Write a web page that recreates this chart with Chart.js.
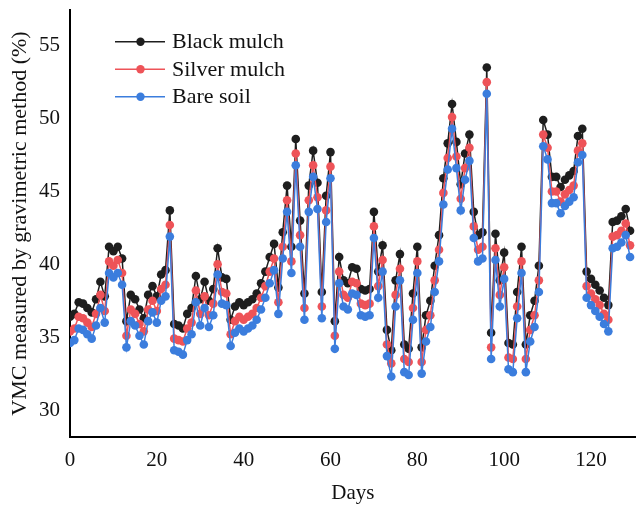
<!DOCTYPE html>
<html>
<head>
<meta charset="utf-8">
<script src="https://cdn.jsdelivr.net/npm/chart.js@4.4.1/dist/chart.umd.min.js"></script>
<style>
    html, body { margin: 0; padding: 0; background: #fff; }
    #wrap { width: 640px; height: 507px; position: relative; }
</style>
</head>
<body>
<div id="wrap"><canvas id="vmcChart"></canvas></div>
<script>
// VMC (%) per day; index = day number
const blackMulch = [
    36.4, 36.6, 37.4, 37.3, 37.0, 36.7, 37.6, 38.8, 37.8, 41.2,
    40.9, 41.2, 40.4, 36.1, 37.9, 37.6, 36.9, 36.3, 37.9, 38.5,
    37.8, 39.3, 39.6, 43.7, 35.9, 35.8, 35.6, 36.6, 37.0, 39.2,
    37.6, 38.8, 37.5, 38.3, 41.1, 39.1, 39.0, 36.2, 37.1, 37.4,
    37.2, 37.4, 37.6, 38.0, 38.7, 39.5, 40.5, 41.4, 38.4, 42.2,
    45.4, 41.2, 48.6, 43.0, 38.0, 45.4, 47.8, 45.6, 38.1, 44.7,
    47.7, 36.1, 40.5, 38.9, 38.7, 39.8, 39.7, 38.3, 38.2, 38.3,
    43.6, 39.5, 41.3, 35.5, 34.1, 38.9, 40.7, 34.5, 34.2, 38.0,
    41.2, 34.3, 36.5, 37.5, 39.9, 42.0, 45.9, 48.3, 51.0, 48.4,
    45.5, 47.6, 48.9, 43.6, 42.0, 42.2, 53.5, 35.3, 42.1, 38.9,
    40.8, 34.6, 34.5, 38.1, 41.2, 34.5, 36.5, 37.5, 39.9, 49.9,
    48.9, 46.0, 46.0, 45.3, 45.8, 46.1, 46.4, 48.8, 49.3, 39.5,
    39.0, 38.6, 38.2, 37.7, 37.2, 42.9, 43.0, 43.3, 43.8, 42.3
];
const silverMulch = [
    35.4, 35.6, 36.4, 36.3, 36.0, 35.7, 36.6, 37.9, 36.8, 40.2,
    39.9, 40.3, 39.4, 35.1, 36.9, 36.6, 35.9, 35.4, 36.9, 37.5,
    36.8, 38.3, 38.6, 42.7, 34.9, 34.8, 34.7, 35.6, 36.0, 38.2,
    36.6, 37.8, 36.5, 37.3, 40.0, 38.1, 38.0, 35.2, 36.1, 36.4,
    36.2, 36.4, 36.6, 37.0, 37.7, 38.5, 39.5, 40.4, 37.4, 41.2,
    44.4, 40.2, 47.6, 42.0, 37.0, 44.4, 46.8, 44.6, 37.1, 43.7,
    46.7, 35.1, 39.5, 37.9, 37.7, 38.8, 38.7, 37.3, 37.2, 37.3,
    42.6, 38.5, 40.3, 34.5, 33.2, 37.9, 39.7, 33.5, 33.3, 37.0,
    40.2, 33.3, 35.5, 36.5, 38.9, 41.0, 44.9, 47.3, 50.1, 47.4,
    44.5, 46.6, 48.0, 42.6, 41.0, 41.2, 52.5, 34.3, 41.1, 37.9,
    39.8, 33.6, 33.5, 37.1, 40.2, 33.5, 35.5, 36.5, 38.9, 48.9,
    48.0, 45.0, 45.0, 44.3, 44.8, 45.1, 45.4, 47.8, 48.3, 38.5,
    38.0, 37.6, 37.2, 36.6, 36.2, 41.9, 42.0, 42.3, 42.8, 41.3
];
const bareSoil = [
    34.6, 34.8, 35.6, 35.5, 35.2, 34.9, 35.8, 37.0, 36.0, 39.4,
    39.1, 39.4, 38.6, 34.3, 36.1, 35.8, 35.1, 34.5, 36.1, 36.7,
    36.0, 37.5, 37.8, 41.9, 34.1, 34.0, 33.8, 34.8, 35.2, 37.4,
    35.8, 37.0, 35.7, 36.5, 39.3, 37.3, 37.2, 34.4, 35.3, 35.6,
    35.4, 35.6, 35.8, 36.2, 36.9, 37.7, 38.7, 39.6, 36.6, 40.4,
    43.6, 39.4, 46.8, 41.2, 36.2, 43.6, 46.0, 43.8, 36.3, 42.9,
    45.9, 34.2, 38.7, 37.1, 36.9, 38.0, 37.9, 36.5, 36.4, 36.5,
    41.8, 37.7, 39.5, 33.7, 32.3, 37.1, 38.9, 32.6, 32.4, 36.2,
    39.4, 32.5, 34.7, 35.7, 38.1, 40.2, 44.1, 46.5, 49.3, 46.6,
    43.7, 45.8, 47.1, 41.8, 40.2, 40.4, 51.7, 33.5, 40.3, 37.1,
    39.0, 32.8, 32.6, 36.3, 39.4, 32.6, 34.7, 35.7, 38.1, 48.1,
    47.2, 44.2, 44.2, 43.5, 44.0, 44.3, 44.6, 47.0, 47.5, 37.7,
    37.2, 36.8, 36.4, 35.9, 35.4, 41.1, 41.2, 41.5, 42.0, 40.5
];
const seriesNames = ['Black mulch', 'Silver mulch', 'Bare soil'];
const seriesColors = ['#1e1e1e', '#ee5358', '#3b7ddd'];
const dayTicks = [0, 20, 40, 60, 80, 100, 120];
const vmcTicks = [30, 35, 40, 45, 50, 55];

const serif = "'Liberation Serif', 'Times New Roman', serif";

function toPoints(values) {
    return values.map((v, day) => ({ x: day, y: v }));
}

// legend drawn inside the plot, top-left, like the original figure
const insetLegend = {
    id: 'insetLegend',
    afterDraw(chart) {
        const ctx = chart.ctx;
        const rows = [41.7, 69.3, 96.7];
        ctx.save();
        ctx.font = '22px ' + serif;
        ctx.textBaseline = 'middle';
        ctx.textAlign = 'left';
        seriesNames.forEach((name, i) => {
            const y = rows[i];
            ctx.strokeStyle = seriesColors[i];
            ctx.lineWidth = 1.6;
            ctx.beginPath();
            ctx.moveTo(115, y);
            ctx.lineTo(165, y);
            ctx.stroke();
            ctx.fillStyle = seriesColors[i];
            ctx.beginPath();
            ctx.arc(140.5, y, 4.2, 0, Math.PI * 2);
            ctx.fill();
            ctx.fillStyle = '#111';
            ctx.fillText(name, 172, y + 1);
        });
        ctx.restore();
    }
};

function makeDataset(values, i, drawOrder) {
    return {
        label: seriesNames[i],
        data: toPoints(values),
        borderColor: seriesColors[i],
        backgroundColor: seriesColors[i],
        borderWidth: 1.5,
        pointRadius: 4.3,
        pointBorderWidth: 0,
        pointBackgroundColor: seriesColors[i],
        tension: 0,
        order: drawOrder
    };
}

// drop the half-label padding Chart.js reserves at the axis ends
function noEndPadding(scale) {
    scale.paddingTop = 0;
    scale.paddingBottom = 0;
    scale.paddingLeft = 0;
    scale.paddingRight = 0;
}

const ctx = document.getElementById('vmcChart').getContext('2d');
new Chart(ctx, {
    type: 'line',
    data: {
        datasets: [
            makeDataset(blackMulch, 0, 3),
            makeDataset(silverMulch, 1, 2),
            makeDataset(bareSoil, 2, 1)
        ]
    },
    options: {
        responsive: true,
        maintainAspectRatio: false,
        animation: false,
        layout: { padding: { top: 10, right: 3, left: 0, bottom: 0 } },
        plugins: {
            legend: { display: false },
            tooltip: { enabled: false }
        },
        scales: {
            x: {
                type: 'linear',
                min: 0,
                max: 130.3,
                afterBuildTicks: (scale) => { scale.ticks = dayTicks.map(v => ({ value: v })); },
                afterFit: (scale) => { scale.height = 70; noEndPadding(scale); },
                grid: { display: false, drawTicks: false },
                border: { display: true, color: '#000', width: 2 },
                ticks: { color: '#111', padding: 11, font: { family: serif, size: 21 } },
                title: {
                    display: true,
                    text: 'Days',
                    color: '#111',
                    font: { family: serif, size: 21 },
                    padding: { top: 0, bottom: 1 }
                }
            },
            y: {
                min: 28.15,
                max: 57.45,
                afterBuildTicks: (scale) => { scale.ticks = vmcTicks.map(v => ({ value: v })); },
                afterFit: (scale) => { scale.width = 70; noEndPadding(scale); },
                grid: { display: false, drawTicks: false },
                border: { display: true, color: '#000', width: 2 },
                ticks: { color: '#111', padding: 10, font: { family: serif, size: 21 } },
                title: {
                    display: true,
                    text: 'VMC measured by gravimetric method (%)',
                    color: '#111',
                    font: { family: serif, size: 22 },
                    padding: { top: 7, bottom: 0 }
                }
            }
        }
    },
    plugins: [insetLegend]
});
</script>
</body>
</html>
